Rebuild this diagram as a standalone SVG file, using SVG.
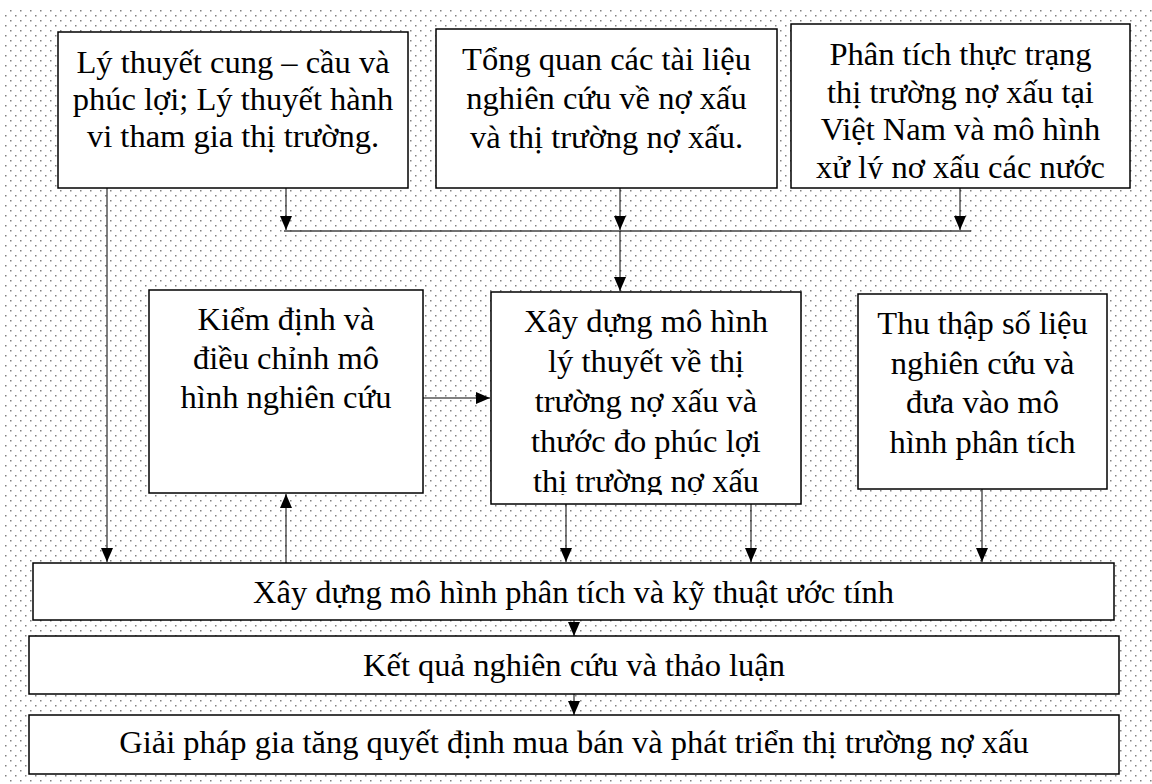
<svg xmlns="http://www.w3.org/2000/svg" width="1152" height="784" viewBox="0 0 1152 784">
<style>
.box{fill:#fff;stroke:#000;stroke-width:1.5}
.t{font-family:"Liberation Serif","Times New Roman",serif;font-size:32.5px;fill:#000;text-anchor:middle}
.c{stroke:#000;stroke-width:1;fill:none;marker-end:url(#ah)}
.bus{stroke:#444;stroke-width:1.5;fill:none}
</style>
<defs>
<pattern id="dots" width="10" height="10" patternUnits="userSpaceOnUse">
<rect width="10" height="10" fill="#fff"/>
<rect x="0" y="0" width="1.5" height="1.5" fill="#808080"/>
<rect x="5" y="5" width="1.5" height="1.5" fill="#808080"/>
</pattern>
<marker id="ah" markerUnits="userSpaceOnUse" markerWidth="14" markerHeight="12" refX="14" refY="6" orient="auto" viewBox="0 0 14 12">
<path d="M0,0 L14,6 L0,12 z" fill="#000"/>
</marker>
<clipPath id="clip3"><rect x="791" y="24" width="339" height="155"/></clipPath>
<clipPath id="clipX"><rect x="491" y="292" width="310" height="203"/></clipPath>
</defs>
<rect x="0" y="0" width="1152" height="784" fill="#fff"/>
<rect x="5" y="9" width="1147" height="775" fill="url(#dots)"/>

<g id="node-lythuyet">
<rect class="box" x="58" y="32" width="350" height="156"/>
<text class="t" x="233" y="73">Lý thuyết cung – cầu và</text>
<text class="t" x="233" y="110">phúc lợi; Lý thuyết hành</text>
<text class="t" x="233" y="147">vi tham gia thị trường.</text>
</g>
<g id="node-tongquan">
<rect class="box" x="436" y="29" width="341" height="159"/>
<text class="t" x="606.5" y="70">Tổng quan các tài liệu</text>
<text class="t" x="606.5" y="109">nghiên cứu về nợ xấu</text>
<text class="t" x="606.5" y="148">và thị trường nợ xấu.</text>
</g>
<g id="node-phantich">
<rect class="box" x="791" y="24" width="339" height="164"/>
<g clip-path="url(#clip3)">
<text class="t" x="960.5" y="65">Phân tích thực trạng</text>
<text class="t" x="960.5" y="102.5">thị trường nợ xấu tại</text>
<text class="t" x="960.5" y="140">Việt Nam và mô hình</text>
<text class="t" x="960.5" y="177.5">xử lý nợ xấu các nước</text>
</g>
</g>
<g id="node-kiemdinh">
<rect class="box" x="149" y="290" width="274" height="203"/>
<text class="t" x="286" y="330">Kiểm định và</text>
<text class="t" x="286" y="369">điều chỉnh mô</text>
<text class="t" x="286" y="408">hình nghiên cứu</text>
</g>
<g id="node-xaydungmohinh">
<rect class="box" x="491" y="292" width="310" height="212"/>
<g clip-path="url(#clipX)">
<text class="t" x="646" y="332">Xây dựng mô hình</text>
<text class="t" x="646" y="372">lý thuyết về thị</text>
<text class="t" x="646" y="412">trường nợ xấu và</text>
<text class="t" x="646" y="452">thước đo phúc lợi</text>
<text class="t" x="646" y="492">thị trường nợ xấu</text>
</g>
</g>
<g id="node-thuthap">
<rect class="box" x="858" y="294" width="249" height="195"/>
<text class="t" x="982.5" y="334">Thu thập số liệu</text>
<text class="t" x="982.5" y="374">nghiên cứu và</text>
<text class="t" x="982.5" y="413">đưa vào mô</text>
<text class="t" x="982.5" y="453">hình phân tích</text>
</g>
<g id="node-mohinhphantich">
<rect class="box" x="33" y="563" width="1081" height="57"/>
<text class="t" x="573.5" y="603">Xây dựng mô hình phân tích và kỹ thuật ước tính</text>
</g>
<g id="node-ketqua">
<rect class="box" x="29" y="636" width="1090" height="58"/>
<text class="t" x="574" y="676">Kết quả nghiên cứu và thảo luận</text>
</g>
<g id="node-giaiphap">
<rect class="box" x="29" y="715" width="1090" height="59"/>
<text class="t" x="574" y="753">Giải pháp gia tăng quyết định mua bán và phát triển thị trường nợ xấu</text>
</g>

<g id="connectors">
<line class="bus" x1="284" y1="231" x2="971" y2="231"/>
<line class="c" x1="286" y1="188" x2="286" y2="230"/>
<line class="c" x1="620" y1="188" x2="620" y2="230"/>
<line class="c" x1="960" y1="188" x2="960" y2="230"/>
<line class="c" x1="620" y1="231" x2="620" y2="291"/>
<line class="c" x1="107" y1="188" x2="107" y2="562"/>
<line class="c" x1="286" y1="563" x2="286" y2="494"/>
<line class="c" x1="423" y1="398" x2="490" y2="398"/>
<line class="c" x1="566" y1="504" x2="566" y2="562"/>
<line class="c" x1="751" y1="504" x2="751" y2="562"/>
<line class="c" x1="982" y1="489" x2="982" y2="562"/>
<line class="c" x1="574" y1="620" x2="574" y2="636"/>
<line class="c" x1="574" y1="694" x2="574" y2="715"/>
</g>
</svg>
